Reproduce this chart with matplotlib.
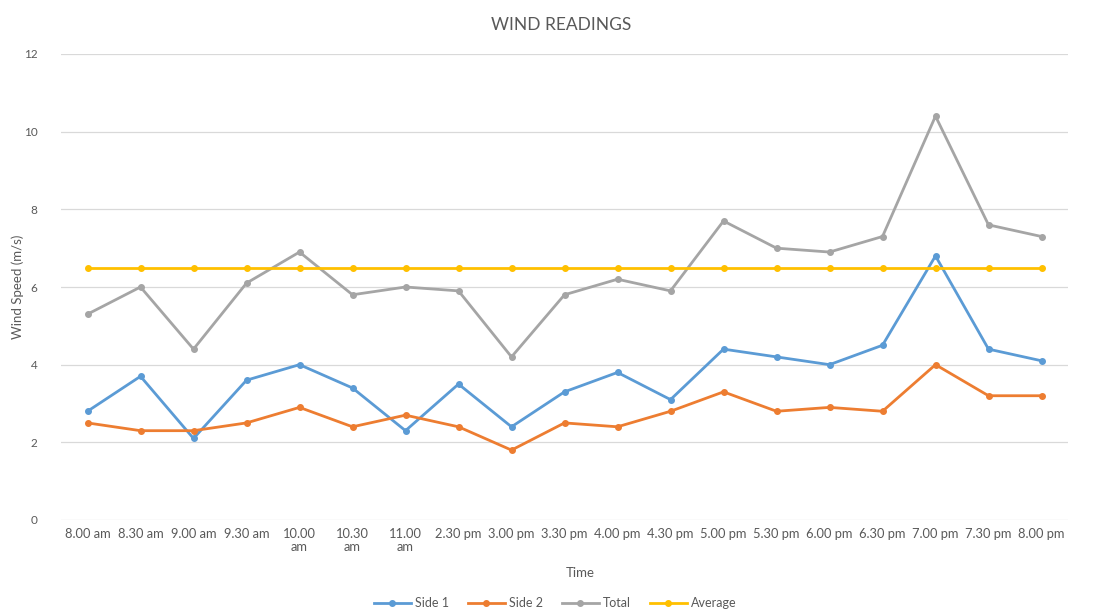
import matplotlib
matplotlib.use("Agg")
import matplotlib.pyplot as plt

plt.rcParams['font.family'] = ['Lato', 'DejaVu Sans']

times = ["8.00 am", "8.30 am", "9.00 am", "9.30 am", "10.00\nam", "10.30\nam", "11.00\nam",
         "2.30 pm", "3.00 pm", "3.30 pm", "4.00 pm", "4.30 pm", "5.00 pm", "5.30 pm",
         "6.00 pm", "6.30 pm", "7.00 pm", "7.30 pm", "8.00 pm"]
side1 = [2.8, 3.7, 2.1, 3.6, 4.0, 3.4, 2.3, 3.5, 2.4, 3.3, 3.8, 3.1, 4.4, 4.2, 4.0, 4.5, 6.8, 4.4, 4.1]
side2 = [2.5, 2.3, 2.3, 2.5, 2.9, 2.4, 2.7, 2.4, 1.8, 2.5, 2.4, 2.8, 3.3, 2.8, 2.9, 2.8, 4.0, 3.2, 3.2]
total = [5.3, 6.0, 4.4, 6.1, 6.9, 5.8, 6.0, 5.9, 4.2, 5.8, 6.2, 5.9, 7.7, 7.0, 6.9, 7.3, 10.4, 7.6, 7.3]
average = [6.5, 6.5, 6.5, 6.5, 6.5, 6.5, 6.5, 6.5, 6.5, 6.5, 6.5, 6.5, 6.5, 6.5, 6.5, 6.5, 6.5, 6.5, 6.5]
yticks = [0, 2, 4, 6, 8, 10, 12]

series = [("Side 1", side1, "#5B9BD5"), ("Side 2", side2, "#ED7D31"),
          ("Total", total, "#A5A5A5"), ("Average", average, "#FFC000")]

fig = plt.figure(figsize=(10.99, 6.11), dpi=100)
ax = fig.add_axes([61 / 1099, 1 - 520 / 611, (1068 - 61) / 1099, (520 - 54) / 611])

x = list(range(len(times)))
for name, vals, col in series:
    ax.plot(x, vals, color=col, lw=2.0, marker='o', ms=4, label=name, zorder=3)

ax.set_xlim(-0.5, len(times) - 0.5)
ax.set_ylim(0, 12)
ax.set_yticks(yticks)
ax.set_xticks(x)
ax.set_xticklabels(times, fontsize=9.3, color="#595959", linespacing=1.05)
ax.tick_params(axis='y', labelsize=8.5, labelcolor="#595959", length=0, pad=17)
ax.tick_params(axis='x', length=0, pad=6)
ax.grid(axis='y', color="#D9D9D9", lw=0.9)
ax.set_axisbelow(True)
for s in ax.spines.values():
    s.set_visible(False)

fig.text(561 / 1099, 1 - 25 / 611, "WIND READINGS", ha='center', va='center',
         fontsize=12.5, color="#595959")
fig.text(18 / 1099, 1 - 287 / 611, "Wind Speed (m/s)", ha='center', va='center',
         rotation=90, fontsize=9.5, color="#595959")
fig.text(580 / 1099, 1 - 573 / 611, "Time", ha='center', va='center',
         fontsize=9.5, color="#595959")

leg = fig.legend(loc='center', bbox_to_anchor=(555 / 1099, 1 - 603 / 611), ncol=4,
                 frameon=False, fontsize=9, handlelength=3, handletextpad=0.3,
                 columnspacing=1.5, labelcolor="#595959")

fig.savefig("out.png", dpi=100, facecolor="white")
